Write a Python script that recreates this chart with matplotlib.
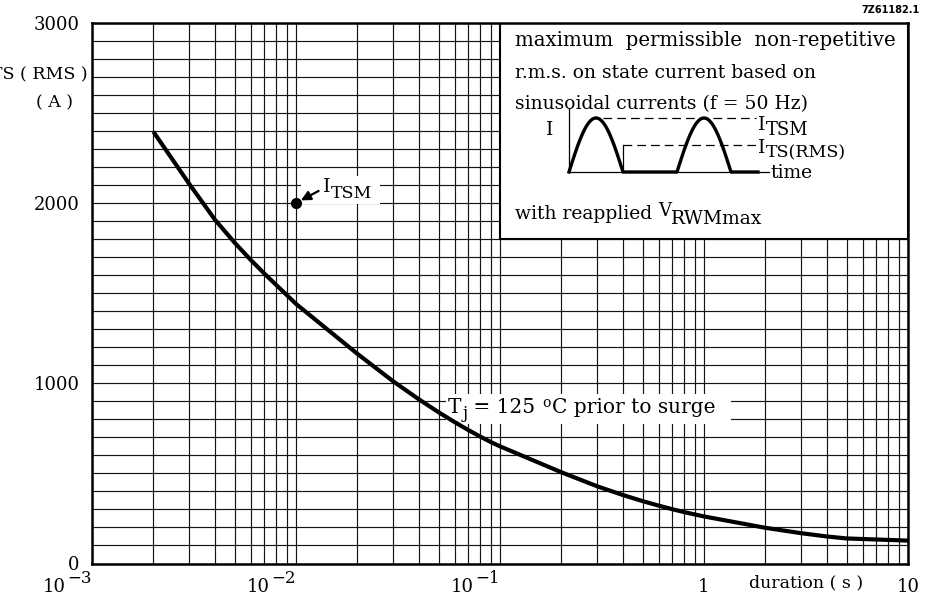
import numpy as np
import matplotlib
matplotlib.use("Agg")
import matplotlib.pyplot as plt
import matplotlib.transforms as mtransforms
from matplotlib.patches import Rectangle
from matplotlib.ticker import LogLocator, MultipleLocator, FixedLocator, NullFormatter

plt.rcParams['font.family'] = ['DejaVu Serif']
plt.rcParams['mathtext.fontset'] = 'dejavuserif'

# ---- data ----
duration = [2e-3, 3e-3, 4e-3, 5e-3, 6e-3, 7e-3, 8e-3, 9e-3, 1e-2,
            2e-2, 3e-2, 4e-2, 5e-2, 6e-2, 7e-2, 8e-2, 9e-2, 0.1,
            0.2, 0.3, 0.4, 0.5, 0.6, 0.7, 0.8, 1.0,
            2.0, 3.0, 4.0, 5.0, 10.0]
current = [2395, 2105, 1908, 1780, 1684, 1608, 1545, 1490, 1440,
           1163, 1010, 911, 839, 784, 740, 704, 674, 650,
           506, 428, 380, 346, 321, 301, 285, 261,
           198, 168, 150, 139, 127]
itsm_point_x = [1e-2]
itsm_point_y = [2000]
x_ticks = [1e-3, 1e-2, 1e-1, 1, 10]
x_tick_base = ['10', '10', '10', '1', '10']
x_tick_exp = ['\u22123', '\u22122', '\u22121', '', '']
y_ticks = [0, 1000, 2000, 3000]
y_tick_labels = ['0', '1000', '2000', '3000']
box_x = [0.1, 10]
box_y = [1800, 3000]

W, H = 929, 601
fig = plt.figure(figsize=(W / 100, H / 100), dpi=100)
L, R, T, B = 92, 908, 22.7, 563.5
ax = fig.add_axes([L / W, 1 - B / H, (R - L) / W, (B - T) / H])

ax.set_xscale('log')
ax.set_xlim(1e-3, 10)
ax.set_ylim(0, 3000)

ax.xaxis.set_major_locator(FixedLocator(x_ticks))
ax.xaxis.set_major_formatter(NullFormatter())
ax.xaxis.set_minor_locator(LogLocator(base=10, subs=np.arange(2, 10)))
ax.xaxis.set_minor_formatter(NullFormatter())
ax.yaxis.set_major_locator(FixedLocator(y_ticks))
ax.set_yticklabels(y_tick_labels)
ax.yaxis.set_minor_locator(MultipleLocator(100))

ax.tick_params(which='both', length=0)
ax.tick_params(axis='y', pad=9, labelsize=13)

ax.grid(which='both', color='#151515', linewidth=0.85)
ax.set_axisbelow(True)
for s in ax.spines.values():
    s.set_linewidth(1.8)


def chain(prev, pieces, ax_=None, left=False):
    """Attach text pieces one after another: (text, size, gap pt, dy pt)."""
    a = ax_ if ax_ is not None else ax
    out = [prev]
    for txt, size, gap, dy in pieces:
        if left:
            prev = a.annotate(txt, xy=(0, 0), xycoords=prev, xytext=(-gap, dy),
                              textcoords='offset points', ha='right', va='bottom',
                              fontsize=size, zorder=6, annotation_clip=False)
        else:
            prev = a.annotate(txt, xy=(1, 0), xycoords=prev, xytext=(gap, dy),
                              textcoords='offset points', ha='left', va='bottom',
                              fontsize=size, zorder=6, annotation_clip=False)
        out.append(prev)
    return out


# x tick labels (power-of-ten style with large exponents)
xtrans = mtransforms.blended_transform_factory(ax.transData, ax.transAxes)
y_base = -(592 - B) / (B - T)
for xv, b, e in zip(x_ticks, x_tick_base, x_tick_exp):
    if e:
        sup = ax.text(xv, y_base + 9 / (B - T), e, transform=xtrans, ha='right',
                      va='baseline', fontsize=12)
        chain(sup, [(b, 13, 1.2, -6.5)], left=True)
    else:
        ax.text(xv, y_base, b, transform=xtrans, ha='center', va='baseline', fontsize=13)

# box with description
ax.fill_between(box_x, box_y[0], box_y[1], facecolor='white', edgecolor='black',
                linewidth=1.5, zorder=2)

# curve
ax.plot(duration, current, color='black', linewidth=3.0, zorder=3,
        solid_capstyle='butt', solid_joinstyle='round')

# ITSM point
ax.plot(itsm_point_x, itsm_point_y, 'o', color='black', markersize=7, zorder=4)
base = ax.annotate('I', xy=(itsm_point_x[0], itsm_point_y[0]),
                   xytext=(0.0135, 2062), ha='left', va='baseline', fontsize=14,
                   arrowprops=dict(arrowstyle='-|>', color='black', lw=1.6,
                                   mutation_scale=14, shrinkA=1, shrinkB=4),
                   zorder=6)
itsm_parts = chain(base, [('TSM', 12.5, 0.5, -2)])

# temperature label
t0 = ax.text(0.0556, 834, 'T', ha='left', va='baseline', fontsize=14.5, zorder=6)
tj_parts = chain(t0, [('j', 12, 0.5, -3.5), (' = 125 ', 14.5, 0, 3.5), ('o', 10, 0.5, 5.5),
                      ('C prior to surge', 14.5, 0.5, -5.5)])

# box text
bx = 0.518
ax.text(bx, 0.968, 'maximum  permissible  non-repetitive', transform=ax.transAxes,
        ha='left', va='center', fontsize=14.2, zorder=5)
ax.text(bx, 0.907, 'r.m.s. on state current based on', transform=ax.transAxes,
        ha='left', va='center', fontsize=13.5, zorder=5)
ax.text(bx, 0.850, 'sinusoidal currents (f = 50 Hz)', transform=ax.transAxes,
        ha='left', va='center', fontsize=13.5, zorder=5)
w0 = ax.text(bx, (B - 219) / (B - T), 'with reapplied ', transform=ax.transAxes,
             ha='left', va='baseline', fontsize=13.5, zorder=5)
chain(w0, [('V', 13, 0, 2.2), ('RWMmax', 13.5, 0, -5.8)])

# axis labels
ax.text(0.875, -0.036, 'duration ( s )', transform=ax.transAxes, ha='center',
        va='center', fontsize=12.5)
fig.text(88 / W, 1 - 75 / H, 'ITS ( RMS )', ha='right', va='center', fontsize=12.5)
fig.text(55 / W, 1 - 103 / H, '( A )', ha='center', va='center', fontsize=12.5)
fig.text(920 / W, 1 - 10 / H, '7Z61182.1', ha='right', va='center', fontsize=7,
         family='DejaVu Sans', weight='bold')

# inset schematic of the surge waveform
unit = 54.0
ix0, iy0 = 569, 172
iax = fig.add_axes([ix0 / W, 1 - iy0 / H, 3.7 * unit / W, 64 / H])
iax.set_xlim(0, 3.7)
iax.set_ylim(0, 64 / unit)
iax.axis('off')
phase = np.linspace(0, 1, 60)
wave_x = np.concatenate([phase, [1, 2], 2 + phase, [3, 3.5]])
wave_y = np.concatenate([np.sin(np.pi * phase), [0, 0], np.sin(np.pi * phase), [0, 0]])
iax.plot([0, 0], [0, 64 / unit], color='black', lw=0.9, clip_on=False)
iax.plot([0, 3.7], [0, 0], color='black', lw=0.9, clip_on=False)
iax.plot(wave_x, wave_y, color='black', lw=2.4, clip_on=False, solid_joinstyle='round')
iax.plot([0.63, 3.46], [1, 1], color='black', lw=0.9, dashes=(7, 4), clip_on=False)
iax.plot([1, 3.46], [0.5, 0.5], color='black', lw=0.9, dashes=(7, 4), clip_on=False)
iax.plot([1, 1], [0, 0.5], color='black', lw=0.9, clip_on=False)
iax.text(-0.36, 0.78, 'I', ha='center', va='center', fontsize=13.5)
i1 = iax.text(3.5, 0.78, 'I', ha='left', va='baseline', fontsize=13.5)
chain(i1, [('TSM', 13, 0.5, -3.5)], ax_=iax)
i2 = iax.text(3.5, 0.35, 'I', ha='left', va='baseline', fontsize=13.5)
chain(i2, [('TS(RMS)', 12.5, 0.5, -3)], ax_=iax)
iax.text(3.74, -0.02, 'time', ha='left', va='center', fontsize=13.5)

# white backgrounds behind the in-plot labels (hide the grid, keep the curve)
fig.canvas.draw()
renderer = fig.canvas.get_renderer()
for parts, pad_r in ((itsm_parts, 8), (tj_parts, 16)):
    bb = mtransforms.Bbox.union([p.get_window_extent(renderer) for p in parts])
    (x0, y0), (x1, y1) = ax.transData.inverted().transform(
        [[bb.x0 - 2, bb.y0 - 2], [bb.x1 + pad_r, bb.y1 + 2]])
    ax.add_patch(Rectangle((x0, y0), x1 - x0, y1 - y0, facecolor='white',
                           edgecolor='none', zorder=2.5))

fig.savefig('out.png', dpi=100)
